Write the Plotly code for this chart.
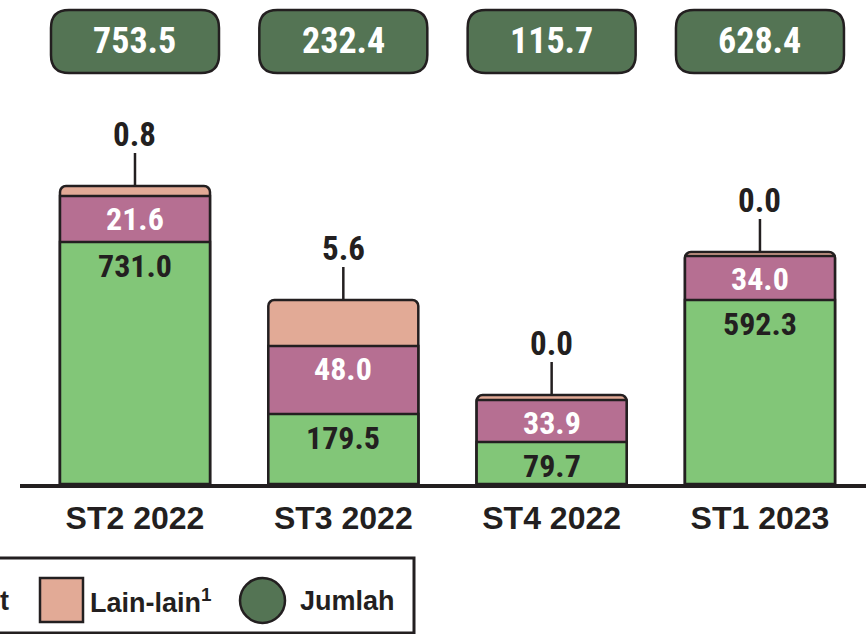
import plotly.graph_objects as go
import numpy as np

# ---------------- data ----------------
categories = ["ST2 2022", "ST3 2022", "ST4 2022", "ST1 2023"]
green_values = [731.0, 179.5, 79.7, 592.3]
pink_values = [21.6, 48.0, 33.9, 34.0]
tan_values = [0.8, 5.6, 0.0, 0.0]
total_values = [753.5, 232.4, 115.7, 628.4]
# segment heights as drawn in the (not-to-scale) infographic
green_drawn = [242, 70, 42, 184]
pink_drawn = [46, 68, 42, 44]
tan_drawn = [10, 46, 5, 4]
legend_labels = ["t", "Lain-lain<sup>1</sup>", "Jumlah"]

# ---------------- styles ----------------
C_GREEN = "#82C678"
C_PINK = "#B66F92"
C_TAN = "#E2AA96"
C_DARK = "#547454"
C_INK = "#231F20"
NUM_FONT = "Liberation Sans Narrow, Roboto Condensed, DejaVu Sans Condensed, Liberation Sans"
TXT_FONT = "Liberation Sans, Arial, sans-serif"

W, H = 866, 634
ML, MB = 20, 150
PLOT_H = H - MB
PLOT_W = W - ML
XMIN, XMAX = -0.552, 3.509

def px_x(p):
    return (p - ML) / PLOT_W

def px_y(p):
    return (PLOT_H - p) / PLOT_H

def idx_x(i):
    return (i - XMIN) / (XMAX - XMIN)

g = np.array(green_drawn, dtype=float)
p = np.array(pink_drawn, dtype=float)
t = np.array(tan_drawn, dtype=float)
cum_gp = g + p
cum_all = g + p + t

fig = go.Figure()
bar_kw = dict(width=0.72, marker_line_color=C_INK, marker_line_width=2.5,
              marker_cornerradius=6, showlegend=False, hoverinfo="skip")
fig.add_trace(go.Bar(x=categories, y=cum_all, marker_color=C_TAN, **bar_kw))
fig.add_trace(go.Bar(x=categories, y=cum_gp, marker_color=C_PINK, **bar_kw))
fig.add_trace(go.Bar(x=categories, y=g, marker_color=C_GREEN, **bar_kw))

shapes = []
annotations = []
for i, cat in enumerate(categories):
    annotations.append(dict(x=cat, y=g[i], xref="x", yref="y", xanchor="center", yanchor="middle",
                            yshift=-24, showarrow=False, text=f"{green_values[i]:.1f}",
                            font=dict(family=NUM_FONT, size=32, color=C_INK, weight="bold")))
    annotations.append(dict(x=cat, y=cum_gp[i], xref="x", yref="y", xanchor="center", yanchor="middle",
                            yshift=-23, showarrow=False, text=f"{pink_values[i]:.1f}",
                            font=dict(family=NUM_FONT, size=32, color="white", weight="bold")))
    annotations.append(dict(x=cat, y=cum_all[i], xref="x", yref="y", xanchor="center", yanchor="middle",
                            yshift=52, showarrow=False, text=f"{tan_values[i]:.1f}",
                            font=dict(family=NUM_FONT, size=33, color=C_INK, weight="bold")))
    shapes.append(dict(type="line", xref="x", yref="y", x0=i, x1=i,
                       ysizemode="pixel", yanchor=cum_all[i], y0=0, y1=33,
                       line=dict(color=C_INK, width=2.5)))
    # total boxes
    cx = idx_x(i)
    hw = 84 / PLOT_W
    rx = 18 / PLOT_W
    x0, x1 = cx - hw, cx + hw
    y1, y0 = px_y(10), px_y(73)
    ry = 18 / PLOT_H
    path = (f"M {x0+rx},{y0} L {x1-rx},{y0} Q {x1},{y0} {x1},{y0+ry} "
            f"L {x1},{y1-ry} Q {x1},{y1} {x1-rx},{y1} L {x0+rx},{y1} "
            f"Q {x0},{y1} {x0},{y1-ry} L {x0},{y0+ry} Q {x0},{y0} {x0+rx},{y0} Z")
    shapes.append(dict(type="path", xref="paper", yref="paper", path=path,
                       fillcolor=C_DARK, line=dict(color=C_INK, width=2.5)))
    annotations.append(dict(x=cx, y=px_y(41.5), xref="paper", yref="paper",
                            xanchor="center", yanchor="middle", showarrow=False,
                            text=f"{total_values[i]:.1f}",
                            font=dict(family=NUM_FONT, size=36, color="white", weight="bold")))

# legend (custom drawn)
shapes.append(dict(type="rect", xref="paper", yref="paper", x0=px_x(-10), x1=px_x(414),
                   y0=px_y(633), y1=px_y(558), fillcolor="white",
                   line=dict(color=C_INK, width=3)))
shapes.append(dict(type="rect", xref="paper", yref="paper", x0=px_x(40), x1=px_x(83),
                   y0=px_y(622), y1=px_y(578), fillcolor=C_TAN,
                   line=dict(color=C_INK, width=2.5)))
shapes.append(dict(type="circle", xref="paper", yref="paper", x0=px_x(240), x1=px_x(285),
                   y0=px_y(623), y1=px_y(578), fillcolor=C_DARK,
                   line=dict(color=C_INK, width=2.5)))
leg_font = dict(family=TXT_FONT, size=27, color=C_INK, weight="bold")
annotations.append(dict(x=px_x(11), y=px_y(601), xref="paper", yref="paper", xanchor="right",
                        yanchor="middle", showarrow=False, text=legend_labels[0], font=leg_font))
annotations.append(dict(x=px_x(88), y=px_y(601), xref="paper", yref="paper", xanchor="left",
                        yanchor="middle", showarrow=False, text=legend_labels[1], font=leg_font))
annotations.append(dict(x=px_x(298), y=px_y(601), xref="paper", yref="paper", xanchor="left",
                        yanchor="middle", showarrow=False, text=legend_labels[2], font=leg_font))

fig.update_layout(
    width=W, height=H, barmode="overlay",
    margin=dict(l=ML, r=0, t=0, b=MB, pad=0),
    paper_bgcolor="white", plot_bgcolor="white",
    shapes=shapes, annotations=annotations,
    xaxis=dict(type="category", range=[XMIN, XMAX], showline=True, linecolor=C_INK,
               linewidth=4, ticks="outside", ticklen=3, tickcolor="rgba(0,0,0,0)",
               tickfont=dict(family=TXT_FONT, size=32, color=C_INK, weight="bold"),
               showgrid=False, zeroline=False, fixedrange=True),
    yaxis=dict(range=[0, PLOT_H], visible=False, showgrid=False, zeroline=False,
               fixedrange=True),
)

fig.write_html("out.html", config={"displayModeBar": False},
               post_script="document.body.style.margin='0';document.body.style.overflow='hidden';")
